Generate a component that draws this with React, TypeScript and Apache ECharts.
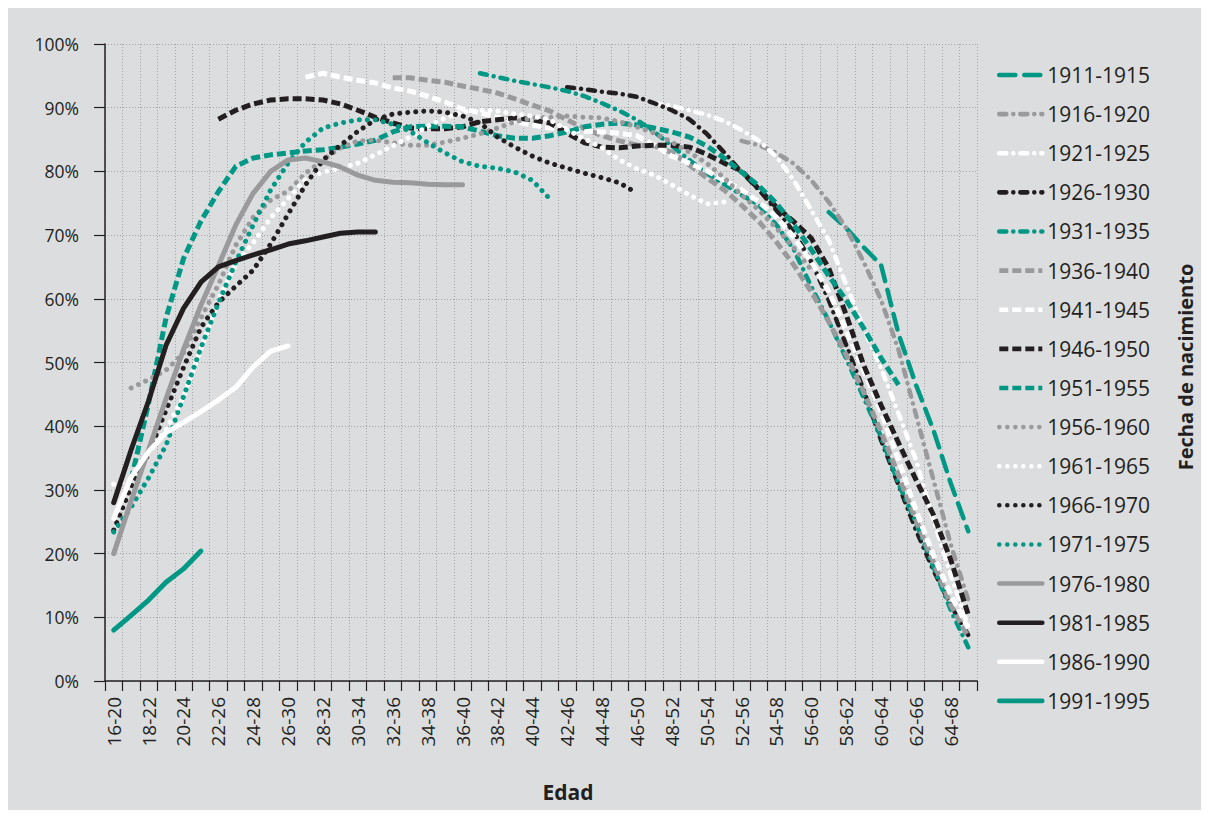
import React, { useEffect, useRef } from 'react';
import * as echarts from 'echarts';

// Age groups (x categories)
const ageGroups = [
  '16-20', '17-21', '18-22', '19-23', '20-24', '21-25', '22-26', '23-27', '24-28', '25-29',
  '26-30', '27-31', '28-32', '29-33', '30-34', '31-35', '32-36', '33-37', '34-38', '35-39',
  '36-40', '37-41', '38-42', '39-43', '40-44', '41-45', '42-46', '43-47', '44-48', '45-49',
  '46-50', '47-51', '48-52', '49-53', '50-54', '51-55', '52-56', '53-57', '54-58', '55-59',
  '56-60', '57-61', '58-62', '59-63', '60-64', '61-65', '62-66', '63-67', '64-68', '65-69',
];

// Cohorts (legend)
const cohorts = [
  '1911-1915', '1916-1920', '1921-1925', '1926-1930', '1931-1935', '1936-1940',
  '1941-1945', '1946-1950', '1951-1955', '1956-1960', '1961-1965', '1966-1970',
  '1971-1975', '1976-1980', '1981-1985', '1986-1990', '1991-1995',
];

// First age group observed for each cohort
const firstAgeGroup = ['57-61', '52-56', '47-51', '42-46', '37-41', '32-36', '27-31', '22-26', '17-21', '17-21',
  '16-20', '16-20', '16-20', '16-20', '16-20', '16-20', '16-20'];

// Values (%), from the first observed age group onward
const v1911 = [73.6, 71.1, 68.1, 65.3, 54.5, 46.5, 39.4, 31.0, 23.5];
const v1916 = [84.8, 84.1, 82.9, 81.2, 78.6, 75.2, 71.1, 65.8, 59.8, 52.0, 41.8, 31.6, 21.4, 12.7];
const v1921 = [90.7, 90.3, 89.6, 88.9, 87.9, 86.5, 84.8, 82.3, 78.6, 73.9, 69.2, 62.2, 55.4, 49.1, 42.0, 34.7, 25.3, 16.6, 8.5];
const v1926 = [93.2, 92.9, 92.5, 92.2, 91.7, 90.7, 89.6, 88.2, 85.9, 83.0, 79.9, 77.1, 73.9, 70.5, 65.8, 59.8, 52.7, 45.7, 37.8, 30.8, 23.7, 17.4, 11.9, 7.2];
const v1931 = [95.4, 94.8, 94.2, 93.7, 93.2, 92.6, 91.8, 90.7, 89.5, 88.1, 86.2, 84.0, 81.8, 79.7, 78.0, 76.3, 74.7, 71.6, 67.7, 61.9, 56.5, 50.6, 44.5, 38.3, 31.0, 24.8, 17.9, 11.1, 5.3];
const v1936 = [94.7, 94.7, 94.3, 94.0, 93.4, 92.9, 92.3, 91.4, 90.4, 89.5, 88.1, 86.7, 85.6, 84.8, 84.1, 84.0, 83.0, 81.0, 79.0, 77.1, 74.7, 72.1, 68.9, 65.3, 61.1, 56.4, 51.2, 45.4, 39.1, 32.3, 25.3, 18.7, 11.9, 6.9];
const v1941 = [94.8, 95.4, 94.8, 94.3, 93.9, 93.1, 92.6, 91.8, 90.9, 89.8, 89.2, 88.5, 87.8, 87.3, 86.8, 86.7, 86.3, 86.2, 86.0, 85.6, 84.1, 82.4, 81.3, 80.1, 78.6, 77.1, 75.2, 72.8, 69.7, 65.8, 61.1, 55.1, 48.8, 42.2, 34.7, 26.8, 19.8, 13.5, 8.3];
const v1946 = [88.2, 89.6, 90.6, 91.2, 91.4, 91.4, 91.2, 90.6, 89.6, 88.5, 87.6, 86.8, 86.7, 86.7, 87.0, 87.8, 88.1, 88.4, 88.1, 87.6, 86.0, 84.5, 83.8, 83.7, 84.0, 84.1, 84.1, 83.8, 82.7, 81.3, 80.1, 77.2, 74.4, 72.1, 69.5, 64.8, 57.5, 49.6, 43.3, 37.4, 31.6, 26.1, 19.0, 10.4];
const v1951 = [31.6, 43.6, 57.0, 66.3, 72.2, 76.8, 80.8, 82.1, 82.6, 82.9, 83.2, 83.4, 83.8, 84.3, 84.9, 86.2, 87.0, 87.1, 87.1, 87.0, 86.3, 85.6, 85.2, 85.2, 85.6, 86.2, 87.0, 87.4, 87.6, 87.3, 86.8, 86.2, 85.4, 84.0, 82.1, 79.9, 77.7, 75.0, 71.6, 67.7, 63.6, 59.8, 55.4, 50.7, 46.5];
const v1956 = [46.0, 47.3, 48.8, 51.5, 57.0, 62.2, 68.4, 72.8, 75.5, 76.9, 79.7, 81.8, 83.7, 84.8, 84.9, 84.5, 84.1, 84.1, 84.6, 85.2, 85.9, 86.8, 87.8, 88.4, 88.5, 88.7, 88.5, 88.4, 87.8, 87.0, 86.0, 84.6, 83.0, 81.3, 79.0, 76.3, 73.9, 71.1, 68.0, 64.5];
const v1961 = [30.9, 31.5, 35.8, 39.4, 44.6, 52.1, 59.8, 65.5, 68.8, 72.7, 75.7, 78.8, 79.9, 80.5, 81.3, 82.6, 84.0, 85.4, 87.1, 88.4, 89.3, 89.6, 89.5, 89.0, 88.7, 88.1, 86.5, 85.1, 83.7, 81.8, 80.4, 79.4, 77.9, 76.3, 74.9, 75.2];
const v1966 = [23.7, 30.5, 35.7, 42.5, 49.2, 55.5, 59.4, 62.0, 64.5, 68.6, 73.3, 77.9, 81.8, 84.1, 86.3, 88.1, 89.0, 89.3, 89.5, 89.3, 88.7, 87.6, 85.4, 83.8, 82.4, 81.3, 80.5, 79.7, 79.0, 78.2, 76.6];
const v1971 = [23.4, 27.3, 31.9, 37.0, 44.6, 52.3, 59.3, 65.8, 71.6, 77.1, 81.3, 84.6, 86.8, 87.6, 88.1, 88.1, 87.4, 86.3, 84.5, 82.9, 81.5, 80.8, 80.5, 79.9, 78.6, 75.7];
const v1976 = [20.0, 28.3, 36.3, 44.3, 52.0, 59.0, 65.2, 71.6, 76.6, 80.0, 81.8, 82.1, 81.5, 80.7, 79.4, 78.6, 78.3, 78.2, 78.0, 77.9, 77.9];
const v1981 = [28.0, 36.3, 44.0, 52.7, 58.5, 62.6, 65.0, 66.0, 66.9, 67.7, 68.6, 69.1, 69.7, 70.3, 70.5, 70.5];
const v1986 = [25.5, 32.0, 36.0, 39.0, 40.6, 42.3, 44.1, 46.1, 49.3, 51.8, 52.6];
const v1991 = [8.0, 10.3, 12.7, 15.5, 17.6, 20.4];

const cohortValues = [v1911, v1916, v1921, v1926, v1931, v1936, v1941, v1946, v1951, v1956, v1961, v1966, v1971, v1976, v1981, v1986, v1991];

const yTicks = [0, 10, 20, 30, 40, 50, 60, 70, 80, 90, 100];

// Styles
const TEAL = '#009885';
const GRAY = '#9a9a9c';
const BLACK = '#231f20';
const WHITE = '#ffffff';
const BG = '#dcdddf';
const FONT = '"Open Sans", "Noto Sans", sans-serif';

const longDash = { type: [16, 9], cap: 'round', width: 4.5 };
const dashDot = { type: [7, 7, 0.01, 7], cap: 'round', width: 4.5 };
const squareDash = { type: [9, 4], cap: 'butt', width: 5 };
const dots = { type: [0.01, 8], cap: 'round', width: 5 };
const solid = { type: 'solid', cap: 'round', width: 5 };

const seriesStyles = [
  { color: TEAL, line: longDash },
  { color: GRAY, line: dashDot },
  { color: WHITE, line: dashDot },
  { color: BLACK, line: dashDot },
  { color: TEAL, line: dashDot },
  { color: GRAY, line: squareDash },
  { color: WHITE, line: squareDash },
  { color: BLACK, line: squareDash },
  { color: TEAL, line: squareDash },
  { color: GRAY, line: dots },
  { color: WHITE, line: dots },
  { color: BLACK, line: dots },
  { color: TEAL, line: dots },
  { color: GRAY, line: solid },
  { color: BLACK, line: solid },
  { color: WHITE, line: solid },
  { color: TEAL, line: solid },
];

export default function App() {
  const ref = useRef<HTMLDivElement>(null);

  useEffect(() => {
    if (!ref.current) return;
    const chart = echarts.init(ref.current, undefined, { renderer: 'svg' });

    const series = cohorts.map((name, k) => {
      const start = ageGroups.indexOf(firstAgeGroup[k]);
      const data: (number | null)[] = ageGroups.map((_, i) =>
        i >= start && i - start < cohortValues[k].length ? cohortValues[k][i - start] : null
      );
      const st = seriesStyles[k];
      return {
        name,
        type: 'line',
        data,
        symbol: 'none',
        showSymbol: false,
        connectNulls: false,
        color: st.color,
        lineStyle: {
          color: st.color,
          width: st.line.width,
          type: st.line.type,
          cap: st.line.cap,
          join: 'round',
        },
        emphasis: { disabled: true },
      };
    });

    chart.setOption({
      animation: false,
      backgroundColor: BG,
      textStyle: { fontFamily: FONT },
      grid: { left: 97, top: 36, width: 872, height: 637, containLabel: false },
      legend: {
        orient: 'vertical',
        left: 989,
        top: 56,
        padding: 0,
        itemWidth: 43,
        itemHeight: 14,
        itemGap: 17.12,
        selectedMode: false,
        data: cohorts,
        itemStyle: { opacity: 0 },
        lineStyle: { width: 4.6 },
        textStyle: { fontSize: 21, lineHeight: 22, color: BLACK, fontFamily: FONT },
      },
      xAxis: {
        type: 'category',
        data: ageGroups,
        boundaryGap: true,
        axisLine: { lineStyle: { color: BLACK, width: 1.5 } },
        axisTick: { show: true, interval: 0, length: 10, lineStyle: { color: BLACK, width: 1.2 } },
        axisLabel: { interval: 1, rotate: 90, margin: 16, fontSize: 19, color: BLACK, fontFamily: FONT },
        splitLine: { show: true, interval: 0, lineStyle: { color: '#a3a4a7', width: 1, type: [1, 2] } },
      },
      yAxis: {
        type: 'value',
        min: yTicks[0],
        max: yTicks[yTicks.length - 1],
        interval: yTicks[1] - yTicks[0],
        axisLine: { show: true, lineStyle: { color: BLACK, width: 1.5 } },
        axisTick: { show: true, length: 11, lineStyle: { color: BLACK, width: 1.2 } },
        axisLabel: { formatter: '{value}%', margin: 26, fontSize: 17.5, color: BLACK, fontFamily: FONT },
        splitLine: { show: true, lineStyle: { color: '#a3a4a7', width: 1, type: [1, 2] } },
      },
      graphic: [
        {
          type: 'text',
          x: 560,
          y: 784,
          style: { text: 'Edad', font: `bold 21px ${FONT}`, fill: BLACK, textAlign: 'center', textVerticalAlign: 'middle' },
        },
        {
          type: 'text',
          x: 1177,
          y: 359,
          rotation: Math.PI / 2,
          style: { text: 'Fecha de nacimiento', font: `bold 20px ${FONT}`, fill: BLACK, textAlign: 'center', textVerticalAlign: 'middle' },
        },
      ],
      series,
    });

    return () => chart.dispose();
  }, []);

  return <div ref={ref} style={{ width: 1193, height: 802 }} />;
}
